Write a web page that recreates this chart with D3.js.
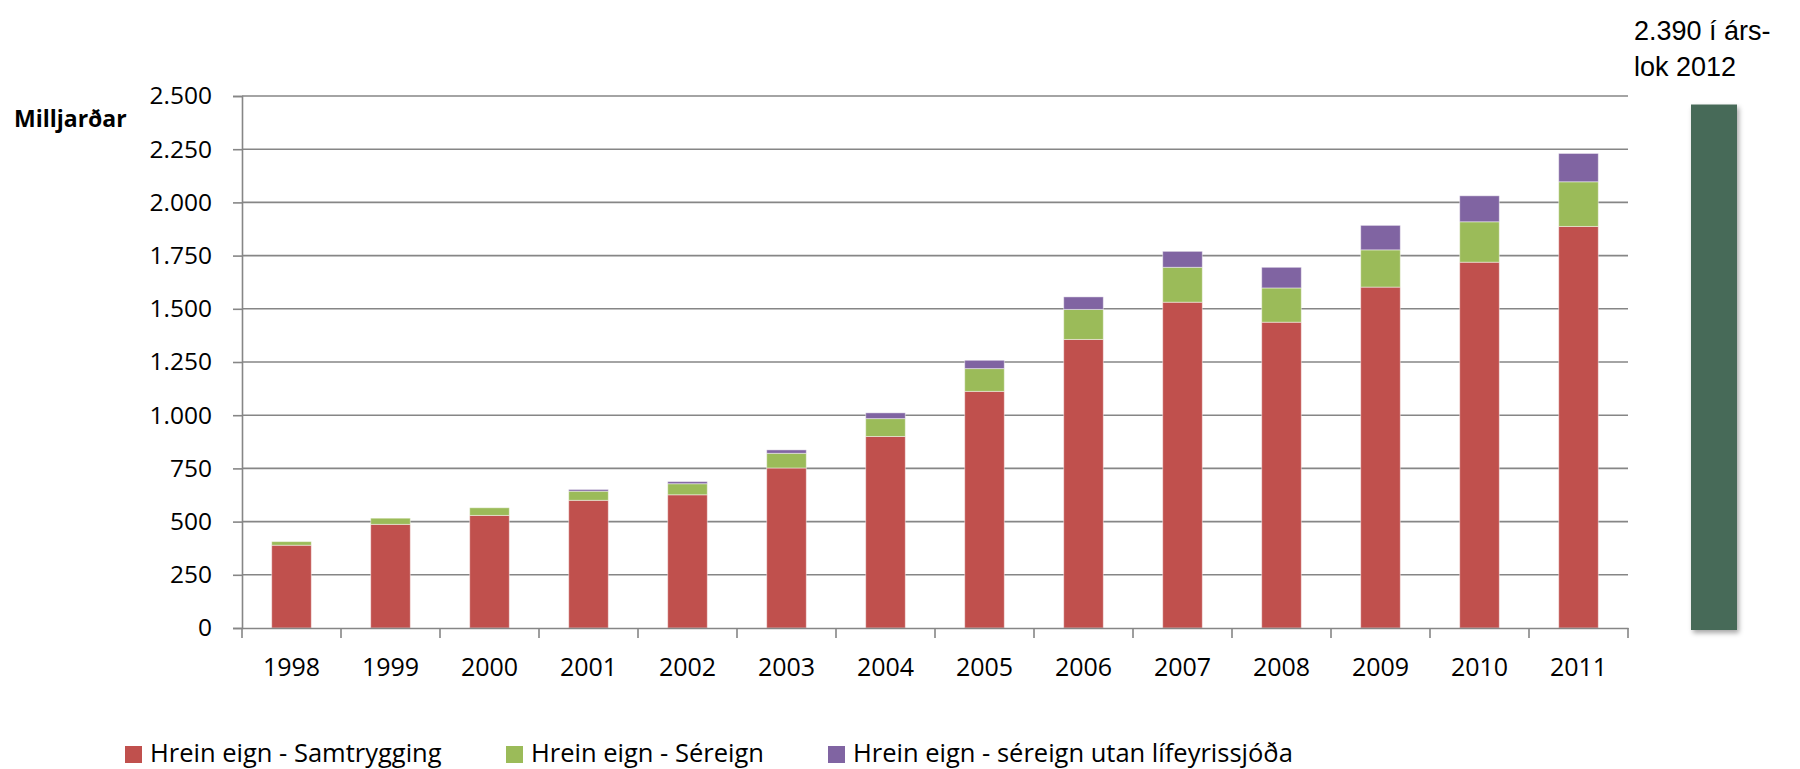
<!DOCTYPE html>
<html>
<head>
<meta charset="utf-8">
<script src="https://cdn.jsdelivr.net/npm/d3@7"></script>
<style>
  html, body { margin: 0; padding: 0; background: #fff; }
  svg { display: block; }
</style>
</head>
<body>
<svg id="chart"></svg>
<script>
// Data (milljarðar kr.)
const years = ["1998", "1999", "2000", "2001", "2002", "2003", "2004", "2005", "2006", "2007", "2008", "2009", "2010", "2011"];
const samtrygging = [389, 487, 529, 600, 626, 752, 900, 1112, 1356, 1531, 1437, 1602, 1719, 1887];
const sereign = [17, 29, 36, 43, 52, 69, 84, 107, 141, 164, 161, 175, 190, 210];
const utanLifeyrissjoda = [0, 0, 0, 8, 10, 16, 27, 39, 59, 75, 97, 115, 122, 133];
const seriesKeys = ["samtrygging", "sereign", "utan"];
const seriesNames = ["Hrein eign - Samtrygging", "Hrein eign - Séreign", "Hrein eign - séreign utan lífeyrissjóða"];
const seriesColors = ["#C0504D", "#9BBB59", "#8064A2"];
const yTicks = [0, 250, 500, 750, 1000, 1250, 1500, 1750, 2000, 2250, 2500];

// the separate 2012 bar on the right
const label2012 = ["2.390 í árs-", "lok 2012"];
const bar2012Height = 2460; // height of the drawn shape

const width = 1800;
const height = 769;
const margin = { top: 96, left: 242, plotRight: 1628, bottom: 628 };

const svg = d3.select("#chart").attr("width", width).attr("height", height);

const fmt = d3.formatLocale({ decimal: ",", thousands: ".", grouping: [3], currency: ["", ""] }).format(",");

const data = years.map((y, i) => ({
  year: y,
  samtrygging: samtrygging[i],
  sereign: sereign[i],
  utan: utanLifeyrissjoda[i]
}));

const stacked = d3.stack().keys(seriesKeys)(data);

const x = d3.scaleBand().domain(years).range([margin.left, margin.plotRight]).padding(0);
const y = d3.scaleLinear().domain([0, 2500]).range([margin.bottom, margin.top]);
const barW = x.bandwidth() * 0.4;

const axisColor = "#868686";
const font = "'Open Sans', 'Noto Sans', sans-serif";

// Gridlines
svg.append("g")
  .selectAll("line")
  .data(yTicks.filter((d) => d > 0))
  .enter()
  .append("line")
  .attr("x1", margin.left)
  .attr("x2", margin.plotRight)
  .attr("y1", (d) => y(d))
  .attr("y2", (d) => y(d))
  .attr("stroke", axisColor)
  .attr("stroke-width", 1.6);

// Stacked bars
svg.append("g")
  .selectAll("g")
  .data(stacked)
  .enter()
  .append("g")
  .attr("fill", (d, i) => seriesColors[i])
  .selectAll("rect")
  .data((d) => d.filter((p) => p[1] - p[0] > 0))
  .enter()
  .append("rect")
  .attr("x", (d) => x(d.data.year) + (x.bandwidth() - barW) / 2)
  .attr("y", (d) => y(d[1]))
  .attr("width", barW)
  .attr("height", (d) => y(d[0]) - y(d[1]))
  .attr("stroke", "#fff")
  .attr("stroke-opacity", 0.45)
  .attr("stroke-width", 1);

// Y axis
const yAxis = svg.append("g")
  .attr("transform", `translate(${margin.left},0)`)
  .call(d3.axisLeft(y).tickValues(yTicks).tickSize(9).tickPadding(21).tickFormat(fmt));
yAxis.select(".domain").attr("stroke", axisColor).attr("stroke-width", 1.6);
yAxis.selectAll(".tick line").attr("stroke", axisColor).attr("stroke-width", 1.6);
yAxis.selectAll(".tick text")
  .attr("fill", "#000")
  .attr("font-family", font)
  .attr("font-size", "24.5px");

// X axis: line, boundary ticks, centered labels
const xAxis = svg.append("g")
  .attr("transform", `translate(0,${margin.bottom})`)
  .call(d3.axisBottom(x).tickSize(0).tickPadding(30));
xAxis.select(".domain").attr("stroke", axisColor).attr("stroke-width", 1.6);
xAxis.selectAll(".tick text")
  .attr("fill", "#000")
  .attr("font-family", font)
  .attr("font-size", "25px");

svg.append("g")
  .selectAll("line")
  .data(years.concat(["end"]))
  .enter()
  .append("line")
  .attr("x1", (d) => (d === "end" ? margin.plotRight : x(d)))
  .attr("x2", (d) => (d === "end" ? margin.plotRight : x(d)))
  .attr("y1", margin.bottom)
  .attr("y2", margin.bottom + 10)
  .attr("stroke", axisColor)
  .attr("stroke-width", 1.6);

// Y axis title
svg.append("text")
  .attr("x", 14)
  .attr("y", 127)
  .attr("font-family", font)
  .attr("font-size", "23px")
  .attr("font-weight", "bold")
  .text("Milljarðar");

// Legend
const legendX = [125, 506, 828];
const legend = svg.append("g")
  .selectAll("g")
  .data(seriesNames)
  .enter()
  .append("g")
  .attr("transform", (d, i) => `translate(${legendX[i]},746)`);
legend.append("rect")
  .attr("width", 17)
  .attr("height", 17)
  .attr("fill", (d, i) => seriesColors[i]);
legend.append("text")
  .attr("x", 25)
  .attr("y", 16)
  .attr("font-family", font)
  .attr("font-size", "25.5px")
  .attr("fill", "#000")
  .text((d) => d);

// The 2012 bar with a soft shadow
const defs = svg.append("defs");
const shadow = defs.append("filter").attr("id", "shadow").attr("x", "-30%").attr("y", "-10%").attr("width", "160%").attr("height", "120%");
shadow.append("feDropShadow")
  .attr("dx", 2).attr("dy", 3).attr("stdDeviation", 2.5)
  .attr("flood-color", "#000").attr("flood-opacity", 0.35);

const x2012 = d3.scaleBand().domain(["2012"]).range([1691, 1737]).padding(0);
svg.append("rect")
  .attr("x", x2012("2012"))
  .attr("y", y(bar2012Height))
  .attr("width", x2012.bandwidth())
  .attr("height", y(0) - y(bar2012Height) + 2)
  .attr("fill", "#466B58")
  .attr("filter", "url(#shadow)");

svg.append("g")
  .selectAll("text")
  .data(label2012)
  .enter()
  .append("text")
  .attr("x", 1634)
  .attr("y", (d, i) => 40 + i * 36)
  .attr("font-family", "'Liberation Sans', Arial, sans-serif")
  .attr("font-size", "27px")
  .attr("fill", "#000")
  .text((d) => d);
</script>
</body>
</html>
